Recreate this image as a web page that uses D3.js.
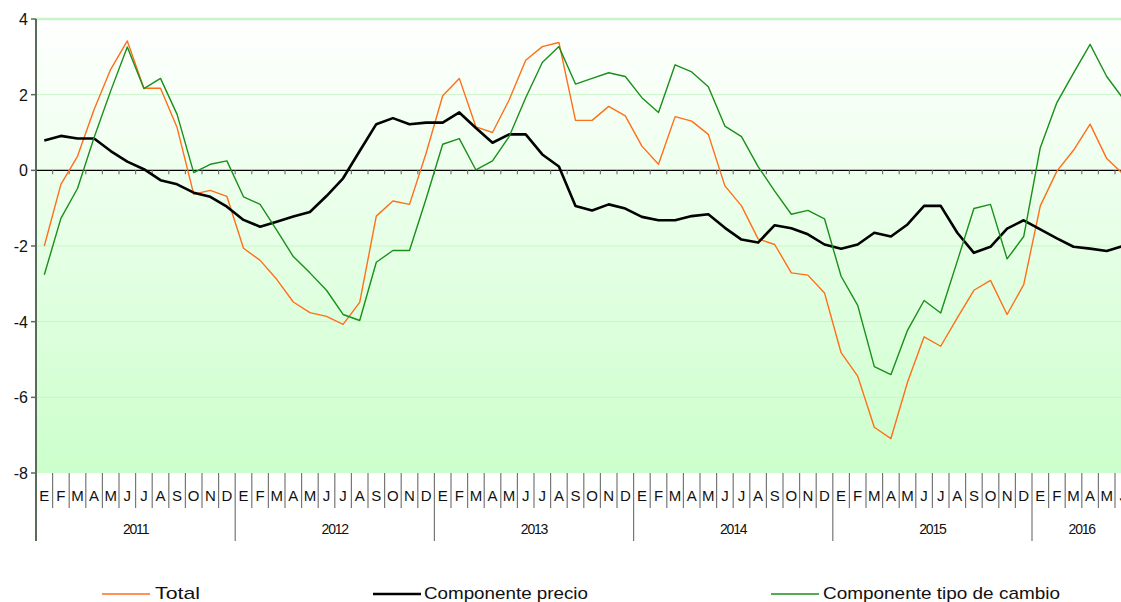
<!DOCTYPE html>
<html>
<head>
<meta charset="utf-8">
<script src="https://cdn.jsdelivr.net/npm/d3@7"></script>
<style>
  body { margin: 0; background: #fff; }
  svg { display: block; font-family: "Liberation Sans", Arial, sans-serif; }
</style>
</head>
<body>
<script>
// data: monthly values, Jan 2011 - Jun 2016
var monthLetters = ["E","F","M","A","M","J","J","A","S","O","N","D"];
var years = ["2011","2012","2013","2014","2015","2016"];
var yTicks = [4, 2, 0, -2, -4, -6, -8];

var total = [-2.0,-0.37,0.37,1.61,2.67,3.42,2.17,2.17,1.13,-0.63,-0.53,-0.69,
  -2.06,-2.38,-2.88,-3.48,-3.76,-3.86,-4.07,-3.49,-1.21,-0.81,-0.9,0.45,
  1.97,2.43,1.15,1.0,1.86,2.91,3.27,3.38,1.32,1.32,1.69,1.44,
  0.64,0.16,1.42,1.3,0.95,-0.41,-0.94,-1.81,-1.96,-2.71,-2.77,-3.24,
  -4.82,-5.44,-6.79,-7.09,-5.6,-4.4,-4.65,-3.9,-3.17,-2.91,-3.81,-3.02,
  -0.94,-0.02,0.53,1.22,0.31,-0.1];

var precio = [0.79,0.91,0.84,0.84,0.51,0.23,0.03,-0.26,-0.37,-0.59,-0.7,-0.96,
  -1.31,-1.49,-1.36,-1.22,-1.1,-0.68,-0.21,0.51,1.22,1.38,1.22,1.26,
  1.26,1.53,1.12,0.73,0.95,0.95,0.42,0.1,-0.94,-1.06,-0.9,-1.01,
  -1.23,-1.32,-1.32,-1.21,-1.16,-1.52,-1.83,-1.91,-1.45,-1.53,-1.69,-1.96,
  -2.07,-1.96,-1.65,-1.75,-1.43,-0.94,-0.94,-1.65,-2.18,-2.02,-1.54,-1.32,
  -1.56,-1.8,-2.02,-2.07,-2.13,-2.0];

var cambio = [-2.76,-1.27,-0.48,0.87,2.1,3.26,2.16,2.43,1.48,-0.06,0.16,0.25,
  -0.7,-0.9,-1.58,-2.28,-2.71,-3.17,-3.81,-3.97,-2.43,-2.12,-2.12,-0.75,
  0.69,0.84,0.01,0.25,0.89,1.92,2.85,3.27,2.28,2.43,2.58,2.48,
  1.92,1.53,2.79,2.6,2.21,1.17,0.89,0.1,-0.55,-1.16,-1.06,-1.28,
  -2.8,-3.57,-5.19,-5.4,-4.23,-3.44,-3.77,-2.4,-1.01,-0.9,-2.34,-1.75,
  0.6,1.79,2.57,3.33,2.48,1.89];

var series = [
  {name: "Total", values: total, color: "#ff6f1a", width: 1.4},
  {name: "Componente precio", values: precio, color: "#000000", width: 2.6},
  {name: "Componente tipo de cambio", values: cambio, color: "#1a8f1a", width: 1.4}
];

// size & layout
var width = 1121, height = 602;
var plotLeft = 36, monthW = 16.6;
var plotTop = 19, plotBottom = 473;
var nMonths = total.length;

var svg = d3.select("body").append("svg")
  .attr("width", width)
  .attr("height", height);

var x = d3.scaleLinear().domain([0, nMonths]).range([plotLeft, plotLeft + nMonths * monthW]);
var y = d3.scaleLinear().domain([-8, 4]).range([plotBottom, plotTop]);

// background gradient
var grad = svg.append("defs").append("linearGradient")
  .attr("id", "bg").attr("x1", 0).attr("y1", 0).attr("x2", 0).attr("y2", 1);
grad.append("stop").attr("offset", "0%").attr("stop-color", "#ffffff");
grad.append("stop").attr("offset", "100%").attr("stop-color", "#ccffcc");

svg.append("rect")
  .attr("x", plotLeft).attr("y", plotTop)
  .attr("width", width - plotLeft).attr("height", plotBottom - plotTop)
  .attr("fill", "url(#bg)");

// gridlines
svg.append("g").selectAll("line")
  .data(yTicks.filter(function(d) { return d != 0 && d != -8; }))
  .enter().append("line")
  .attr("x1", plotLeft).attr("x2", width)
  .attr("y1", function(d) { return y(d); })
  .attr("y2", function(d) { return y(d); })
  .attr("stroke", "#c8f5c8")
  .attr("stroke-width", function(d) { return d == 4 ? 2.5 : 1; });

// zero line with month ticks
svg.append("line")
  .attr("x1", plotLeft).attr("x2", width)
  .attr("y1", y(0)).attr("y2", y(0))
  .attr("stroke", "#000").attr("stroke-width", 1.3);

var bounds = d3.range(1, nMonths + 1);
svg.append("g").selectAll("line")
  .data(bounds)
  .enter().append("line")
  .attr("x1", function(d) { return x(d); })
  .attr("x2", function(d) { return x(d); })
  .attr("y1", y(0)).attr("y2", y(0) + 4)
  .attr("stroke", "#777").attr("stroke-width", 1.2);

// month separators under plot
svg.append("g").selectAll("line")
  .data(bounds)
  .enter().append("line")
  .attr("x1", function(d) { return x(d); })
  .attr("x2", function(d) { return x(d); })
  .attr("y1", plotBottom)
  .attr("y2", function(d) { return d % 12 == 0 ? 541 : 508; })
  .attr("stroke", "#777").attr("stroke-width", 1.2);

// month labels
svg.append("g").selectAll("text")
  .data(d3.range(nMonths))
  .enter().append("text")
  .attr("x", function(d) { return x(d + 0.5); })
  .attr("y", 501)
  .attr("text-anchor", "middle")
  .attr("font-size", 15)
  .attr("fill", "#111")
  .text(function(d) { return monthLetters[d % 12]; });

// year labels
svg.append("g").selectAll("text")
  .data(years)
  .enter().append("text")
  .attr("x", function(d, i) { return x(Math.min(i * 12 + 6, i * 12 + (nMonths - i * 12 - 1) / 2 + 0.5)); })
  .attr("y", 534)
  .attr("text-anchor", "middle")
  .attr("font-size", 14)
  .attr("letter-spacing", -1.2)
  .attr("fill", "#111")
  .text(function(d) { return d; });

// y axis
svg.append("line")
  .attr("x1", plotLeft).attr("x2", plotLeft)
  .attr("y1", plotTop).attr("y2", 541)
  .attr("stroke", "#5b6b5b").attr("stroke-width", 2);

var yAxis = svg.append("g");
yAxis.selectAll("line")
  .data(yTicks)
  .enter().append("line")
  .attr("x1", plotLeft - 5).attr("x2", plotLeft)
  .attr("y1", function(d) { return y(d); })
  .attr("y2", function(d) { return y(d); })
  .attr("stroke", "#5b6b5b").attr("stroke-width", 1.5);
yAxis.selectAll("text")
  .data(yTicks)
  .enter().append("text")
  .attr("x", 28)
  .attr("y", function(d) { return y(d) + 6; })
  .attr("text-anchor", "end")
  .attr("font-size", 16)
  .attr("fill", "#111")
  .text(function(d) { return d; });

// lines
var line = d3.line()
  .x(function(d, i) { return x(i + 0.5); })
  .y(function(d) { return y(d); });

svg.append("g").selectAll("path")
  .data(series)
  .enter().append("path")
  .attr("d", function(d) { return line(d.values); })
  .attr("fill", "none")
  .attr("stroke", function(d) { return d.color; })
  .attr("stroke-width", function(d) { return d.width; })
  .attr("stroke-linejoin", "round");

// legend
var legendPos = [
  {lx: 102, tx: 155, tw: 45},
  {lx: 373, tx: 424, tw: 164},
  {lx: 771, tx: 823, tw: 237}
];
var legend = svg.append("g").selectAll("g")
  .data(series)
  .enter().append("g");
legend.append("line")
  .attr("x1", function(d, i) { return legendPos[i].lx; })
  .attr("x2", function(d, i) { return legendPos[i].lx + 48; })
  .attr("y1", 594).attr("y2", 594)
  .attr("stroke", function(d) { return d.color; })
  .attr("stroke-width", function(d) { return d.width; });
legend.append("text")
  .attr("x", function(d, i) { return legendPos[i].tx; })
  .attr("y", 599)
  .attr("font-size", 17)
  .attr("textLength", function(d, i) { return legendPos[i].tw; })
  .attr("lengthAdjust", "spacingAndGlyphs")
  .attr("fill", "#111")
  .text(function(d) { return d.name; });
</script>
</body>
</html>
